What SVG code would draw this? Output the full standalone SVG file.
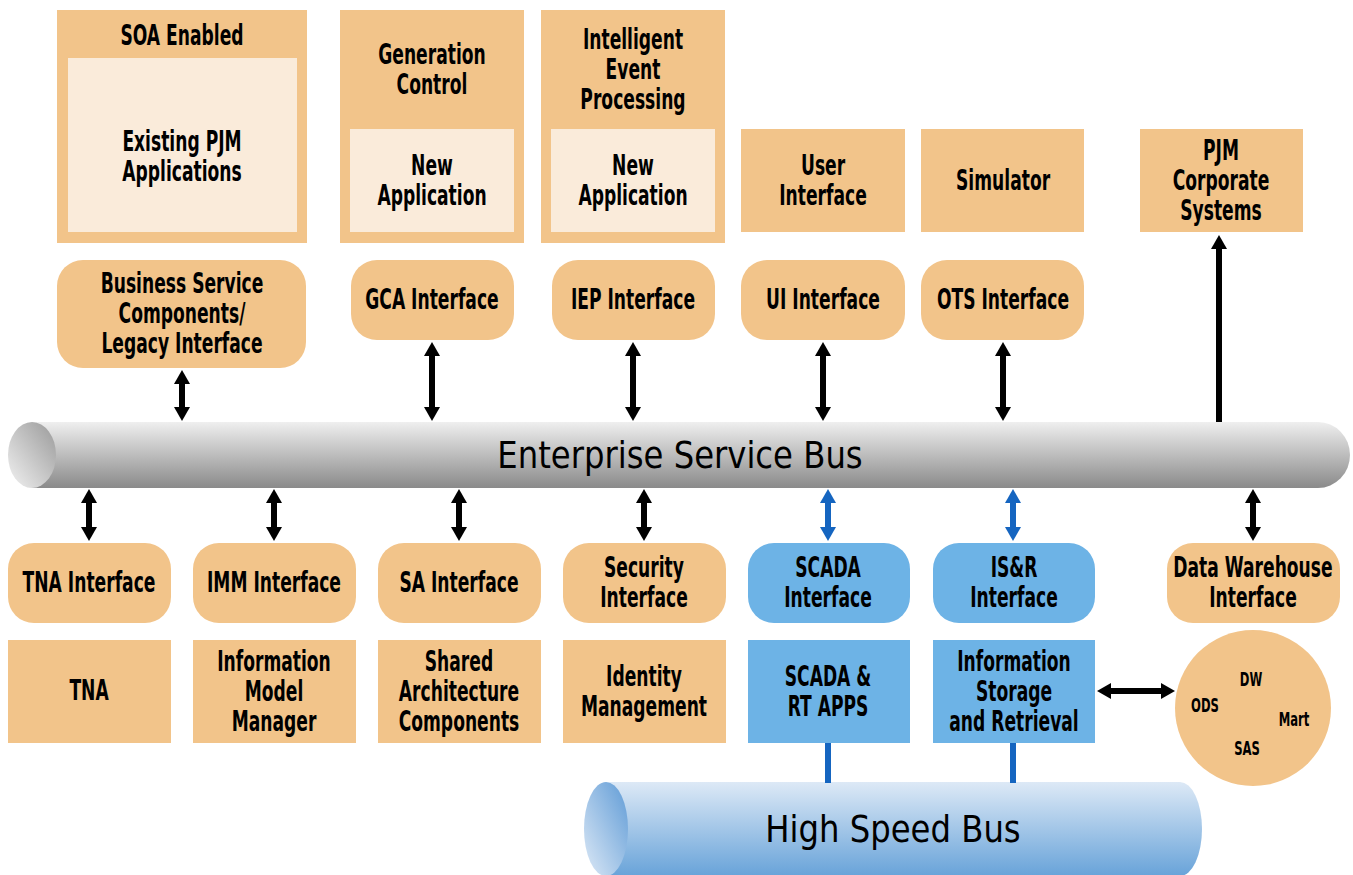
<svg xmlns="http://www.w3.org/2000/svg" width="1353" height="875" viewBox="0 0 1353 875">
<defs>
<style>
.o{fill:#F2C48A}
.l{fill:#FAEBDA}
.b{fill:#6DB3E6}
text{font-family:"DejaVu Sans Condensed","DejaVu Sans",sans-serif;font-size:28px;font-weight:bold;fill:#000;text-anchor:middle;dominant-baseline:central;transform-box:fill-box;transform-origin:center;transform:scaleX(0.68)}
text.s{font-size:19px}
text.bus{font-family:"DejaVu Sans",sans-serif;font-weight:normal;font-size:38px;transform:scaleX(0.85)}
.a{stroke:#000;stroke-width:6;fill:none}
.ab{stroke:#1565C0;stroke-width:6;fill:none}
</style>
<marker id="h" markerUnits="userSpaceOnUse" viewBox="0 0 14 16" refX="0" refY="8" markerWidth="14" markerHeight="16" orient="auto-start-reverse"><path d="M0 0L14 8L0 16Z" fill="#000"/></marker>
<marker id="hb" markerUnits="userSpaceOnUse" viewBox="0 0 14 16" refX="0" refY="8" markerWidth="14" markerHeight="16" orient="auto-start-reverse"><path d="M0 0L14 8L0 16Z" fill="#1565C0"/></marker>
<linearGradient id="esb" x1="0" y1="0" x2="0" y2="1"><stop offset="0" stop-color="#efefef"/><stop offset="1" stop-color="#8a8a8a"/></linearGradient>
<linearGradient id="esbe" x1="1" y1="0" x2="0" y2="1"><stop offset="0" stop-color="#999"/><stop offset="1" stop-color="#f2f2f2"/></linearGradient>
<linearGradient id="hsb" x1="0" y1="0" x2="0" y2="1"><stop offset="0" stop-color="#dde9f6"/><stop offset="1" stop-color="#68a3d9"/></linearGradient>
<linearGradient id="hsbe" x1="1" y1="0" x2="0" y2="1"><stop offset="0" stop-color="#5f9bd6"/><stop offset="1" stop-color="#dde9f6"/></linearGradient>
</defs>

<g id="soa"><rect class="o" x="57" y="10" width="250" height="233"/><rect class="l" x="68" y="58" width="229" height="174"/><text x="182" y="36">SOA Enabled</text><text x="182" y="142">Existing PJM</text><text x="182" y="172">Applications</text></g>
<g id="gen"><rect class="o" x="340" y="10" width="184" height="233"/><rect class="l" x="350" y="129" width="164" height="103"/><text x="432" y="55">Generation</text><text x="432" y="85">Control</text><text x="432" y="166">New</text><text x="432" y="196">Application</text></g>
<g id="iep"><rect class="o" x="541" y="10" width="184" height="233"/><rect class="l" x="551" y="129" width="164" height="103"/><text x="633" y="40">Intelligent</text><text x="633" y="70">Event</text><text x="633" y="100">Processing</text><text x="633" y="166">New</text><text x="633" y="196">Application</text></g>
<g id="ui"><rect class="o" x="741" y="129" width="164" height="103"/><text x="823" y="166">User</text><text x="823" y="196">Interface</text></g>
<g id="sim"><rect class="o" x="921" y="129" width="163" height="103"/><text x="1003" y="181">Simulator</text></g>
<g id="pjm"><rect class="o" x="1140" y="129" width="163" height="103"/><text x="1221" y="151">PJM</text><text x="1221" y="181">Corporate</text><text x="1221" y="211">Systems</text></g>

<g id="bsc"><rect class="o" x="57" y="260" width="249" height="108" rx="26"/><text x="182" y="284">Business Service</text><text x="182" y="314">Components/</text><text x="182" y="344">Legacy Interface</text></g>
<g id="gca"><rect class="o" x="351" y="260" width="163" height="80" rx="26"/><text x="432" y="300">GCA Interface</text></g>
<g id="iepi"><rect class="o" x="552" y="260" width="163" height="80" rx="26"/><text x="633" y="300">IEP Interface</text></g>
<g id="uii"><rect class="o" x="741" y="260" width="164" height="80" rx="26"/><text x="823" y="300">UI Interface</text></g>
<g id="ots"><rect class="o" x="921" y="260" width="163" height="80" rx="26"/><text x="1003" y="300">OTS Interface</text></g>

<g id="esbus"><path d="M32 422H1318A32 33 0 0 1 1318 488H32Z" fill="url(#esb)"/><ellipse cx="32" cy="455" rx="24" ry="33" fill="url(#esbe)"/><text class="bus" x="680" y="455">Enterprise Service Bus</text></g>

<g id="tnai"><rect class="o" x="8" y="543" width="163" height="80" rx="26"/><text x="89" y="583">TNA Interface</text></g>
<g id="immi"><rect class="o" x="193" y="543" width="163" height="80" rx="26"/><text x="274" y="583">IMM Interface</text></g>
<g id="sai"><rect class="o" x="378" y="543" width="163" height="80" rx="26"/><text x="459" y="583">SA Interface</text></g>
<g id="seci"><rect class="o" x="563" y="543" width="163" height="80" rx="26"/><text x="644" y="568">Security</text><text x="644" y="598">Interface</text></g>
<g id="scadai"><rect class="b" x="748" y="543" width="162" height="80" rx="26"/><text x="828" y="568">SCADA</text><text x="828" y="598">Interface</text></g>
<g id="isri"><rect class="b" x="933" y="543" width="162" height="80" rx="26"/><text x="1014" y="568">IS&amp;R</text><text x="1014" y="598">Interface</text></g>
<g id="dwi"><rect class="o" x="1167" y="543" width="173" height="80" rx="26"/><text x="1253" y="568">Data Warehouse</text><text x="1253" y="598">Interface</text></g>

<g id="tna"><rect class="o" x="8" y="640" width="163" height="103"/><text x="89" y="691">TNA</text></g>
<g id="imm"><rect class="o" x="193" y="640" width="163" height="103"/><text x="274" y="662">Information</text><text x="274" y="692">Model</text><text x="274" y="722">Manager</text></g>
<g id="sac"><rect class="o" x="378" y="640" width="163" height="103"/><text x="459" y="662">Shared</text><text x="459" y="692">Architecture</text><text x="459" y="722">Components</text></g>
<g id="idm"><rect class="o" x="563" y="640" width="163" height="103"/><text x="644" y="677">Identity</text><text x="644" y="707">Management</text></g>
<g id="scada"><rect class="b" x="748" y="640" width="162" height="103"/><text x="828" y="677">SCADA &amp;</text><text x="828" y="707">RT APPS</text></g>
<g id="isr"><rect class="b" x="933" y="640" width="162" height="103"/><text x="1014" y="662">Information</text><text x="1014" y="692">Storage</text><text x="1014" y="722">and Retrieval</text></g>
<g id="dw"><circle class="o" cx="1253" cy="708" r="78"/><text class="s" x="1251" y="680">DW</text><text class="s" x="1205" y="706">ODS</text><text class="s" x="1294" y="720">Mart</text><text class="s" x="1247" y="749">SAS</text></g>

<g id="hsbus"><path d="M606 782H1180A22 47 0 0 1 1180 876H606Z" fill="url(#hsb)"/><ellipse cx="606" cy="829" rx="22" ry="47" fill="url(#hsbe)"/><text class="bus" x="893" y="829">High Speed Bus</text></g>

<g id="connectors">
<line class="a" x1="182" y1="384" x2="182" y2="407" marker-start="url(#h)" marker-end="url(#h)"/>
<line class="a" x1="432" y1="356" x2="432" y2="407" marker-start="url(#h)" marker-end="url(#h)"/>
<line class="a" x1="633" y1="356" x2="633" y2="407" marker-start="url(#h)" marker-end="url(#h)"/>
<line class="a" x1="823" y1="356" x2="823" y2="407" marker-start="url(#h)" marker-end="url(#h)"/>
<line class="a" x1="1003" y1="356" x2="1003" y2="407" marker-start="url(#h)" marker-end="url(#h)"/>
<line class="a" x1="1219" y1="422" x2="1219" y2="249" marker-end="url(#h)"/>
<line class="a" x1="89" y1="503" x2="89" y2="527" marker-start="url(#h)" marker-end="url(#h)"/>
<line class="a" x1="274" y1="503" x2="274" y2="527" marker-start="url(#h)" marker-end="url(#h)"/>
<line class="a" x1="459" y1="503" x2="459" y2="527" marker-start="url(#h)" marker-end="url(#h)"/>
<line class="a" x1="644" y1="503" x2="644" y2="527" marker-start="url(#h)" marker-end="url(#h)"/>
<line class="ab" x1="828" y1="503" x2="828" y2="527" marker-start="url(#hb)" marker-end="url(#hb)"/>
<line class="ab" x1="1013" y1="503" x2="1013" y2="527" marker-start="url(#hb)" marker-end="url(#hb)"/>
<line class="a" x1="1253" y1="503" x2="1253" y2="527" marker-start="url(#h)" marker-end="url(#h)"/>
<line class="a" x1="1111" y1="691" x2="1161" y2="691" marker-start="url(#h)" marker-end="url(#h)"/>
<line class="ab" x1="828" y1="743" x2="828" y2="783"/>
<line class="ab" x1="1013" y1="743" x2="1013" y2="783"/>
</g>
</svg>
